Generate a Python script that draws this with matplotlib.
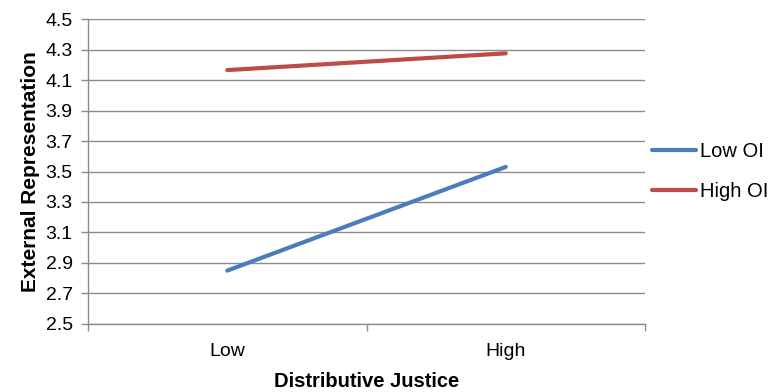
import numpy as np
import matplotlib
matplotlib.use("Agg")
from matplotlib import pyplot

pyplot.rcParams['font.family'] = ['Liberation Sans', 'DejaVu Sans']

categories = ["Low", "High"]
low_oi = [2.85, 3.53]
high_oi = [4.165, 4.275]
series_names = ["Low OI", "High OI"]
y_ticks = [2.5, 2.7, 2.9, 3.1, 3.3, 3.5, 3.7, 3.9, 4.1, 4.3, 4.5]

grid_col = "#8c8c8c"
fs = 14

fig = pyplot.figure(figsize=(7.69, 3.92), dpi=100)
ax = fig.add_axes([0.1144, 0.1735, 0.7244, 0.778])

xs = np.arange(len(categories))
ax.plot(xs, low_oi, color="#4a7ebb", lw=3, solid_capstyle="round", label=series_names[0])
ax.plot(xs, high_oi, color="#be4b48", lw=3, solid_capstyle="round", label=series_names[1])

ax.set_xlim(-0.5, 1.5)
ax.set_ylim(2.5, 4.5)
ax.set_yticks(y_ticks)
ax.set_yticklabels([f"{v:.1f}" for v in y_ticks], fontsize=fs)
ax.set_xticks(xs)
ax.set_xticklabels(categories, fontsize=fs)
ax.set_xticks([-0.5, 0.5, 1.5], minor=True)
ax.tick_params(axis="x", which="major", length=0, pad=14)
ax.tick_params(axis="x", which="minor", length=5, color=grid_col, width=1)
ax.tick_params(axis="y", length=5, color=grid_col, width=1, pad=6)

ax.yaxis.grid(True, color=grid_col, lw=1)
ax.set_axisbelow(True)
for s in ["top", "right"]:
    ax.spines[s].set_visible(False)
for s in ["left", "bottom"]:
    ax.spines[s].set_color(grid_col)
    ax.spines[s].set_linewidth(1)

ax.set_xlabel("Distributive Justice", fontsize=14.5, fontweight="bold", labelpad=8)
ax.set_ylabel("External Representation", fontsize=15, fontweight="bold", labelpad=4)

ax.legend(loc="center left", bbox_to_anchor=(652 / 769, 1 - 171.5 / 392),
          bbox_transform=fig.transFigure, frameon=False, borderpad=0,
          borderaxespad=0, fontsize=14.5, handlelength=2.2, handletextpad=0.2,
          labelspacing=1.0)

pyplot.savefig("out.png", dpi=100)
